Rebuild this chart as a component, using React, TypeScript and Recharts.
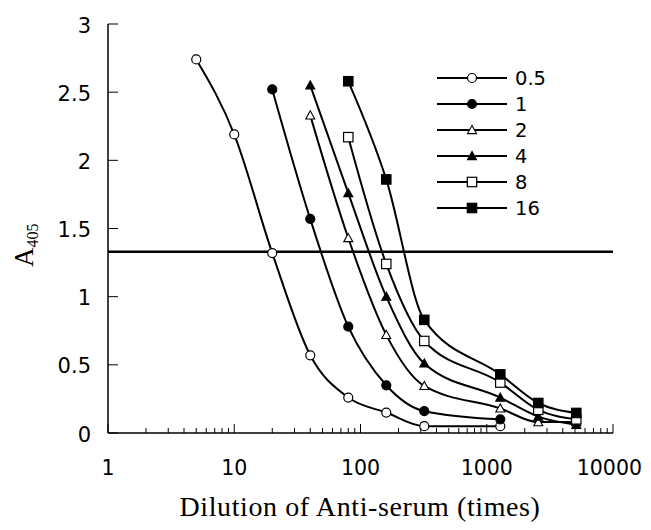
import {
  LineChart,
  Line,
  XAxis,
  YAxis,
  ReferenceLine
} from 'recharts';

const seriesNames = ['0.5', '1', '2', '4', '8', '16'];

const dil05 = [5, 10, 20, 40, 80, 160, 320, 1280];
const abs05 = [2.74, 2.19, 1.32, 0.57, 0.26, 0.15, 0.05, 0.05];

const dil1 = [20, 40, 80, 160, 320, 1280];
const abs1 = [2.52, 1.57, 0.78, 0.35, 0.16, 0.1];

const dil2 = [40, 80, 160, 320, 1280, 2560, 5120];
const abs2 = [2.33, 1.43, 0.72, 0.345, 0.18, 0.08, 0.08];

const dil4 = [40, 80, 160, 320, 1280, 2560, 5120];
const abs4 = [2.55, 1.76, 1.0, 0.51, 0.26, 0.12, 0.06];

const dil8 = [80, 160, 320, 1280, 2560, 5120];
const abs8 = [2.17, 1.24, 0.675, 0.37, 0.17, 0.1];

const dil16 = [80, 160, 320, 1280, 2560, 5120];
const abs16 = [2.58, 1.86, 0.83, 0.43, 0.22, 0.147];

const cutoff = 1.33;

const xMajor = [1, 10, 100, 1000, 10000];
const xTicks = [
  1, 2, 3, 4, 5, 6, 7, 8, 9,
  10, 20, 30, 40, 50, 60, 70, 80, 90,
  100, 200, 300, 400, 500, 600, 700, 800, 900,
  1000, 2000, 3000, 4000, 5000, 6000, 7000, 8000, 9000,
  10000
];
const yTicks = [0, 0.5, 1, 1.5, 2, 2.5, 3];

const toRows = (xs: number[], ys: number[]) => xs.map((x, i) => ({ x, y: ys[i] }));

type Marker = 'circle' | 'triangle' | 'square';
const series = [
  { name: seriesNames[0], data: toRows(dil05, abs05), shape: 'circle' as Marker, filled: false },
  { name: seriesNames[1], data: toRows(dil1, abs1), shape: 'circle' as Marker, filled: true },
  { name: seriesNames[2], data: toRows(dil2, abs2), shape: 'triangle' as Marker, filled: false },
  { name: seriesNames[3], data: toRows(dil4, abs4), shape: 'triangle' as Marker, filled: true },
  { name: seriesNames[4], data: toRows(dil8, abs8), shape: 'square' as Marker, filled: false },
  { name: seriesNames[5], data: toRows(dil16, abs16), shape: 'square' as Marker, filled: true }
];

function drawMarker(shape: Marker, filled: boolean, cx: number, cy: number, key?: string) {
  const fill = filled ? '#000' : '#fff';
  if (shape === 'circle') {
    return <circle key={key} cx={cx} cy={cy} r={4.5} fill={fill} stroke="#000" strokeWidth={1.2} />;
  }
  if (shape === 'triangle') {
    const s = 4.5;
    return (
      <polygon
        key={key}
        points={`${cx},${cy - s} ${cx - s},${cy + s * 0.8} ${cx + s},${cy + s * 0.8}`}
        fill={fill}
        stroke="#000"
        strokeWidth={1.1}
      />
    );
  }
  return <rect key={key} x={cx - 4.7} y={cy - 4.7} width={9.4} height={9.4} fill={fill} stroke="#000" strokeWidth={1.2} />;
}

const sansFont = '"DejaVu Sans", Arial, sans-serif';
const serifFont = '"Liberation Serif", "Times New Roman", serif';

function XTick(props: any) {
  const { x, y, payload } = props;
  const major = xMajor.includes(payload.value);
  const last = payload.value === 10000;
  return (
    <g>
      <line x1={x} y1={y} x2={x} y2={y - (major ? 9 : 5)} stroke="#000" strokeWidth={1} />
      {major && (
        <text
          x={last ? x + 29 : x}
          y={y + 42}
          textAnchor={last ? 'end' : 'middle'}
          fontSize={20.5}
          fontFamily={sansFont}
          fill="#000"
        >
          {payload.value}
        </text>
      )}
    </g>
  );
}

function YTick(props: any) {
  const { x, y, payload } = props;
  return (
    <g>
      <line x1={x} y1={y} x2={x + 10} y2={y} stroke="#000" strokeWidth={1} />
      <text x={x - 17} y={y + 8.5} textAnchor="end" fontSize={21} fontFamily={sansFont} fill="#000">
        {payload.value}
      </text>
    </g>
  );
}

function YTickRight(props: any) {
  const { x, y } = props;
  return <line x1={x} y1={y} x2={x - 6} y2={y} stroke="#000" strokeWidth={1} />;
}

function LegendBox() {
  return (
    <div style={{ position: 'absolute', left: 429, top: 57 }}>
      {series.map((s) => (
        <svg key={s.name} width={130} height={26} style={{ display: 'block' }}>
          <line x1={0} y1={13} x2={70} y2={13} stroke="#000" strokeWidth={2} />
          {drawMarker(s.shape, s.filled, 35, 13)}
          <text x={78} y={20} fontSize={19.5} fontFamily={sansFont} fill="#000">
            {s.name}
          </text>
        </svg>
      ))}
    </div>
  );
}

export default function App() {
  return (
    <div style={{ position: 'relative', width: 635, height: 514, overflow: 'hidden' }}>
      <LineChart width={635} height={514} margin={{ top: 16, right: 30, bottom: 0, left: 0 }}>
        <XAxis
          dataKey="x"
          type="number"
          scale="log"
          domain={[1, 10000]}
          ticks={xTicks}
          allowDataOverflow
          interval={0}
          tickSize={0}
          tickMargin={0}
          tickLine={false}
          tick={<XTick />}
          height={89}
          stroke="#000"
          strokeWidth={1.5}
        />
        <XAxis
          xAxisId="top"
          orientation="top"
          dataKey="x"
          type="number"
          scale="log"
          domain={[1, 10000]}
          tick={false}
          tickLine={false}
          height={0}
          stroke="#000"
        />
        <YAxis
          type="number"
          domain={[0, 3]}
          ticks={yTicks}
          interval={0}
          width={100}
          tickSize={0}
          tickMargin={0}
          tickLine={false}
          tick={<YTick />}
          stroke="#000"
          strokeWidth={1.5}
        />
        <YAxis
          yAxisId="right"
          orientation="right"
          type="number"
          domain={[0, 3]}
          ticks={yTicks}
          interval={0}
          width={0}
          tickSize={0}
          tickMargin={0}
          tickLine={false}
          tick={<YTickRight />}
          stroke="#000"
        />
        <ReferenceLine y={cutoff} stroke="#000" strokeWidth={2.5} />
        {series.map((s) => (
          <Line
            key={s.name}
            data={s.data}
            dataKey="y"
            name={s.name}
            type="monotone"
            stroke="#000"
            strokeWidth={2}
            isAnimationActive={false}
            dot={(p: any) => drawMarker(s.shape, s.filled, p.cx, p.cy, `${s.name}-${p.index}`)}
          />
        ))}
      </LineChart>
      <LegendBox />
      <div
        style={{
          position: 'absolute',
          left: 72,
          top: 485,
          width: 560,
          height: 28,
          textAlign: 'center',
          fontFamily: serifFont,
          fontSize: 28,
          letterSpacing: '0.6px',
          lineHeight: '28px',
          color: '#000',
          whiteSpace: 'nowrap'
        }}
      >
        Dilution of Anti-serum (times)
      </div>
      <svg width={40} height={120} style={{ position: 'absolute', left: 0, top: 200 }}>
        <text transform="translate(25, 59) rotate(-90)" fontFamily={serifFont} fontSize={27} fill="#000">
          A
          <tspan fontSize={16} dy={5}>405</tspan>
        </text>
      </svg>
    </div>
  );
}
